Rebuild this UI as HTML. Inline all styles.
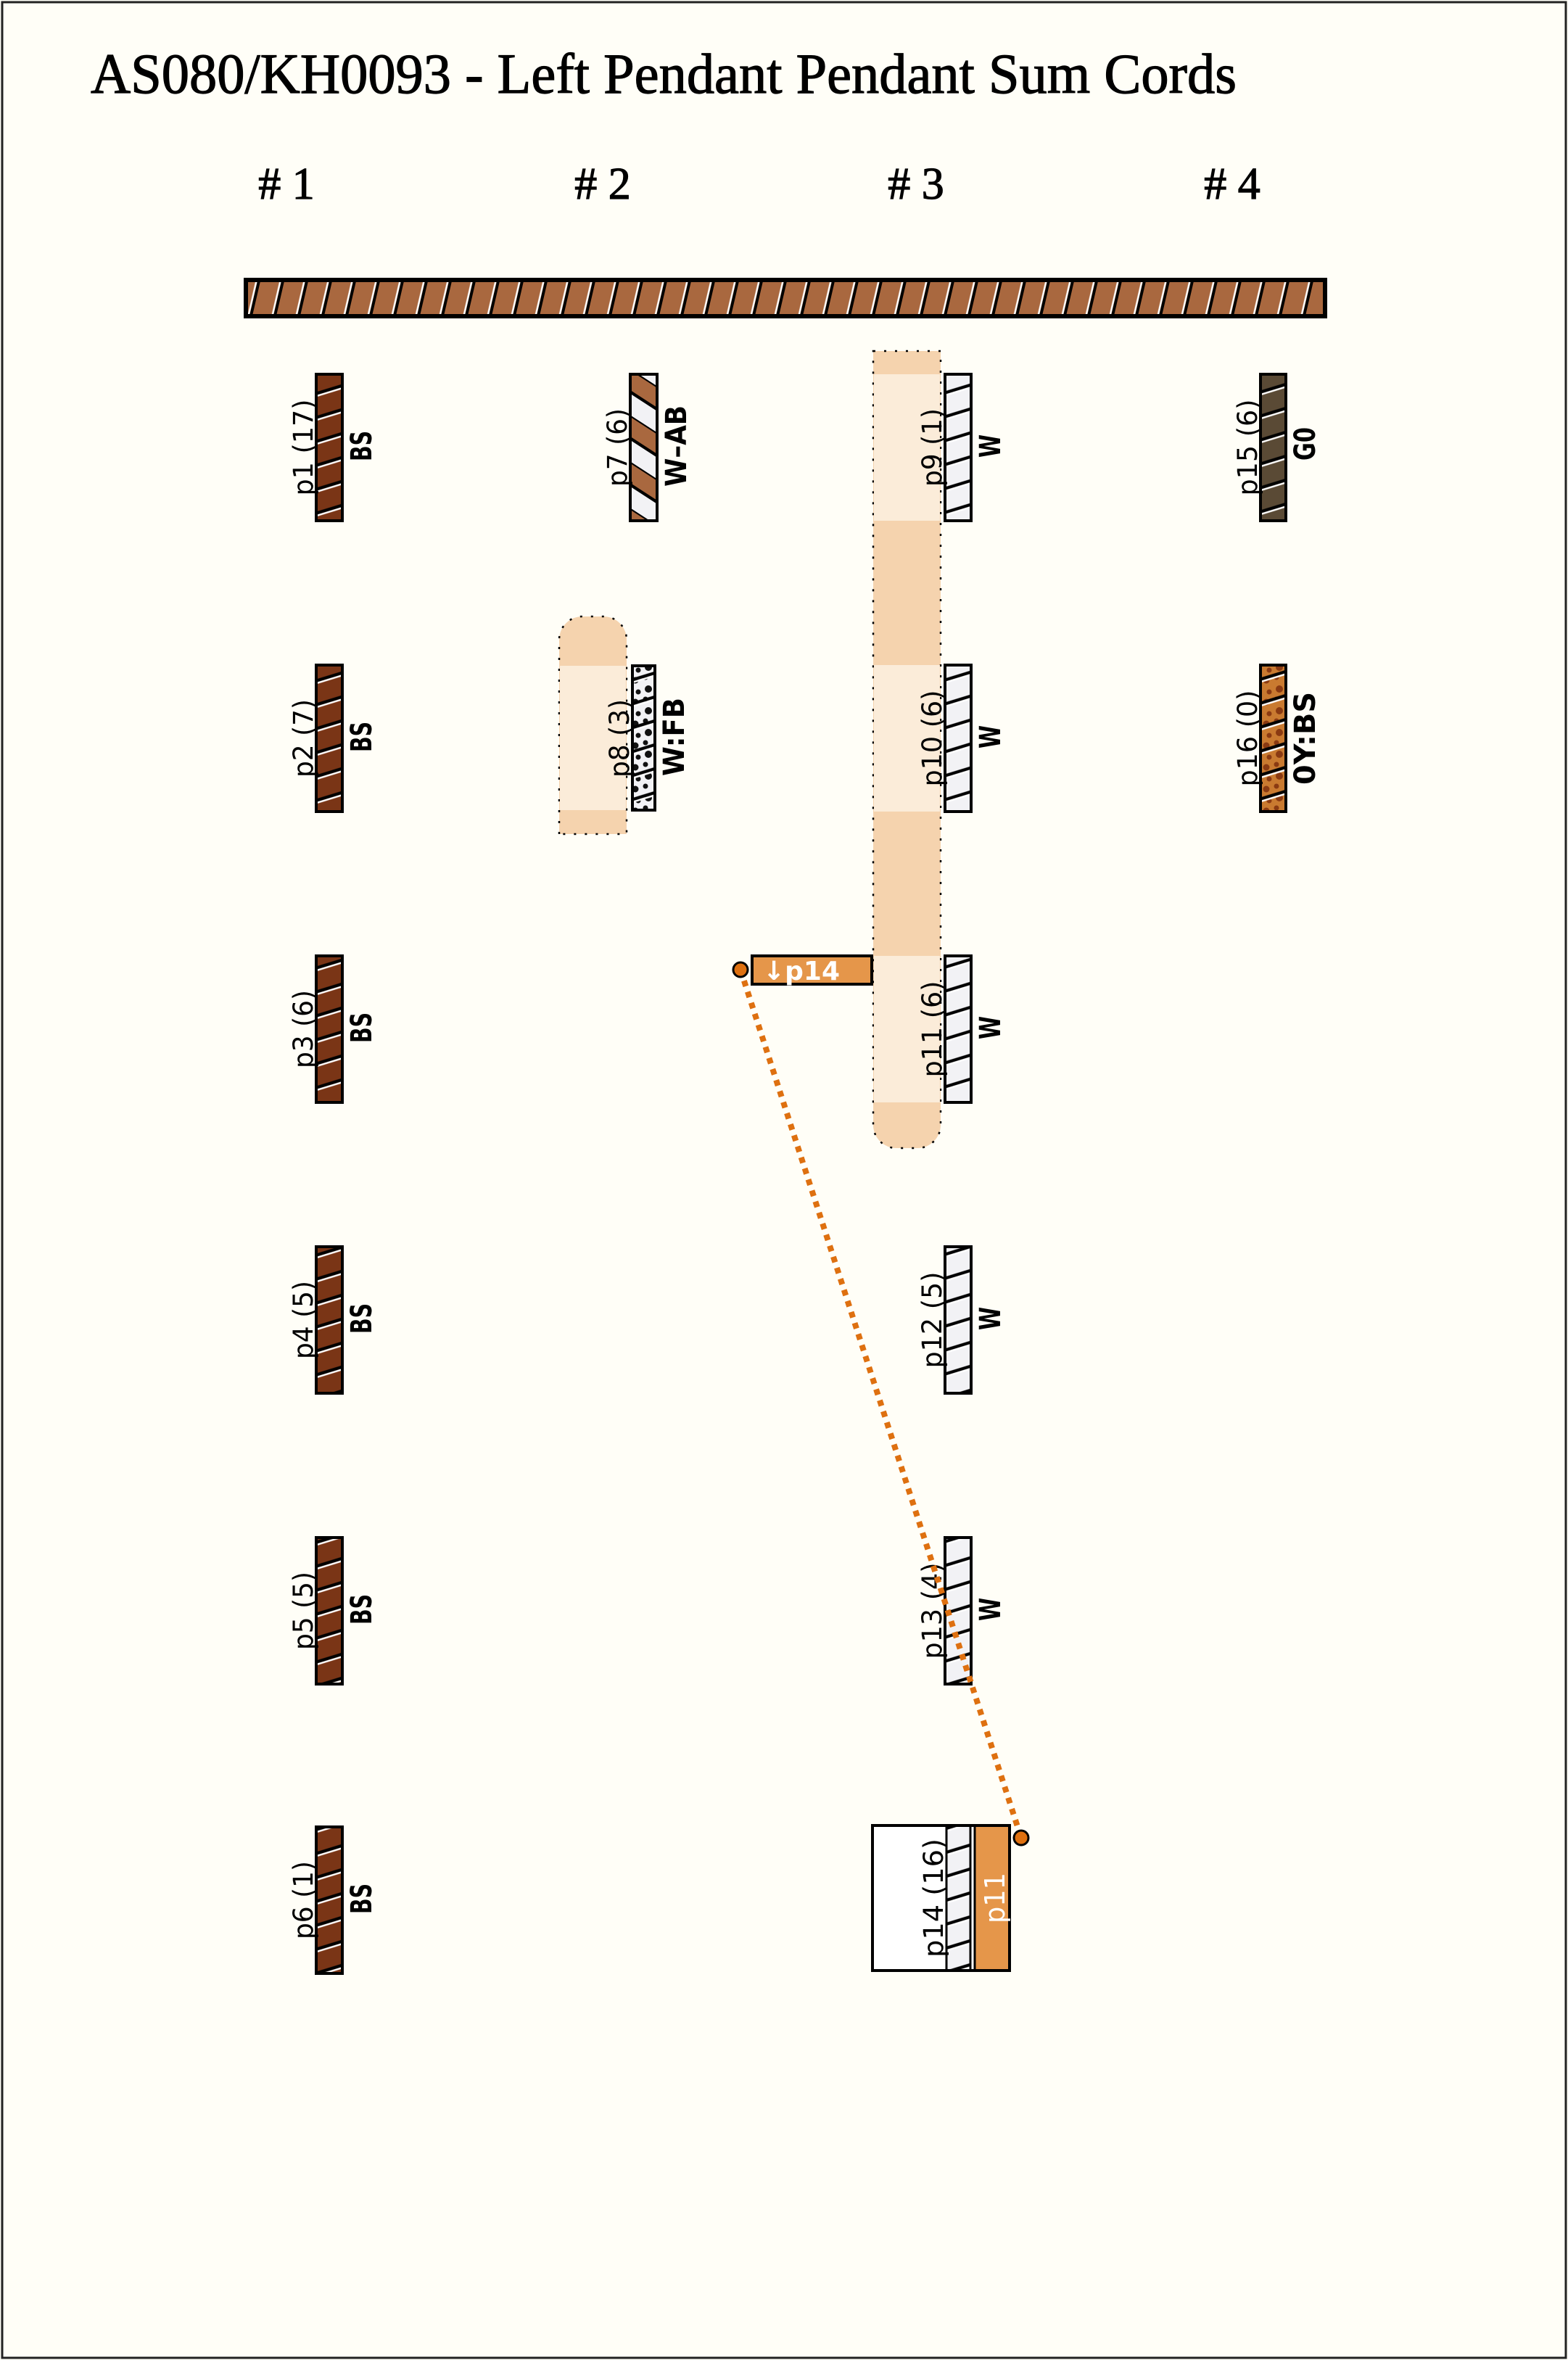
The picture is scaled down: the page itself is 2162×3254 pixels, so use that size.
<!DOCTYPE html>
<html><head><meta charset="utf-8"><style>
html,body{margin:0;padding:0;background:#fffef7;}
svg{display:block;}
.l{font-family:"DejaVu Sans","Liberation Sans",sans-serif;font-size:37px;fill:#000;}
.r{font-family:"DejaVu Sans","Liberation Sans",sans-serif;font-size:40px;font-weight:bold;fill:#000;}
</style></head><body>
<svg width="2162" height="3254" viewBox="0 0 2162 3254" xmlns="http://www.w3.org/2000/svg">
<defs>
<pattern id="sl" width="20" height="33" patternUnits="userSpaceOnUse" patternTransform="skewY(-17)">
<line x1="0" y1="16" x2="20" y2="16" stroke="#000" stroke-width="4.5"/>
<line x1="0" y1="19.5" x2="20" y2="19.5" stroke="#fff" stroke-width="2.5"/>
</pattern>
<pattern id="bar" width="33" height="20" patternUnits="userSpaceOnUse" patternTransform="skewX(-13)">
<line x1="14" y1="0" x2="14" y2="20" stroke="#fff" stroke-width="2.5"/>
<line x1="17.5" y1="0" x2="17.5" y2="20" stroke="#000" stroke-width="4"/>
</pattern>
<pattern id="band" width="20" height="64" patternUnits="userSpaceOnUse" patternTransform="translate(0,520) skewY(33)">
<rect x="0" y="0" width="20" height="32" fill="#a9683f"/>
<rect x="0" y="32" width="20" height="32" fill="#f2f2f5"/>
<line x1="0" y1="0" x2="20" y2="0" stroke="#000" stroke-width="5"/>
<line x1="0" y1="32" x2="20" y2="32" stroke="#000" stroke-width="5"/>
</pattern>
<pattern id="dotsK" width="30" height="30" patternUnits="userSpaceOnUse">
<circle cx="6" cy="8" r="4.5" fill="#111"/><circle cx="20" cy="4" r="3.5" fill="#111"/><circle cx="24" cy="20" r="5" fill="#111"/><circle cx="10" cy="24" r="3.5" fill="#111"/>
</pattern>
<pattern id="dotsB" width="30" height="30" patternUnits="userSpaceOnUse">
<circle cx="6" cy="8" r="4.5" fill="#8a3a12"/><circle cx="20" cy="4" r="3.5" fill="#8a3a12"/><circle cx="24" cy="20" r="5" fill="#8a3a12"/><circle cx="10" cy="24" r="3.5" fill="#8a3a12"/>
</pattern>
</defs>
<rect x="3" y="3" width="2156" height="3248" fill="#fffef7" stroke="#222" stroke-width="3"/>
<text x="125" y="128" font-family="Liberation Serif, serif" font-size="78" stroke="#000" stroke-width="1.2" textLength="1580" lengthAdjust="spacingAndGlyphs">AS080/KH0093 - Left Pendant Pendant Sum Cords</text>
<g font-family="Liberation Serif, serif" font-size="62" text-anchor="middle" stroke="#000" stroke-width="1.2">
<text x="395" y="274"># 1</text><text x="831" y="274"># 2</text><text x="1263" y="274"># 3</text><text x="1699" y="274"># 4</text>
</g>
<!-- main bar -->
<rect x="339" y="386" width="1488" height="50" fill="#a9683f"/>
<rect x="339" y="386" width="1488" height="50" fill="url(#bar)"/>
<rect x="339" y="386" width="1488" height="50" fill="none" stroke="#000" stroke-width="6"/>
<!-- highlights -->
<path d="M1204,484 H1297 V1551 A32,32 0 0 1 1265,1583 H1236 A32,32 0 0 1 1204,1551 Z" fill="#f5d3ae" stroke="#000" stroke-width="2.5" stroke-dasharray="3,12"/>
<rect x="1205" y="516" width="91" height="202" fill="#fbecd9"/>
<rect x="1205" y="917" width="91" height="202" fill="#fbecd9"/>
<rect x="1205" y="1318" width="91" height="202" fill="#fbecd9"/>
<path d="M771,1150 V882 A32,32 0 0 1 803,850 H832 A32,32 0 0 1 864,882 V1150 Z" fill="#f5d3ae" stroke="#000" stroke-width="2.5" stroke-dasharray="3,12"/>
<rect x="772" y="918" width="91" height="199" fill="#fbecd9"/>
<!-- pendants -->
<g stroke="#000" stroke-width="4">
<rect x="436" y="516" width="36" height="202" fill="#7a3516"/><rect x="436" y="516" width="36" height="202" fill="url(#sl)"/>
<rect x="436" y="917" width="36" height="202" fill="#7a3516"/><rect x="436" y="917" width="36" height="202" fill="url(#sl)"/>
<rect x="436" y="1318" width="36" height="202" fill="#7a3516"/><rect x="436" y="1318" width="36" height="202" fill="url(#sl)"/>
<rect x="436" y="1719" width="36" height="202" fill="#7a3516"/><rect x="436" y="1719" width="36" height="202" fill="url(#sl)"/>
<rect x="436" y="2120" width="36" height="202" fill="#7a3516"/><rect x="436" y="2120" width="36" height="202" fill="url(#sl)"/>
<rect x="436" y="2519" width="36" height="202" fill="#7a3516"/><rect x="436" y="2519" width="36" height="202" fill="url(#sl)"/>
<rect x="869" y="516" width="37" height="202" fill="url(#band)"/>
<rect x="872" y="918" width="31" height="199" fill="#f2f2f5"/><rect x="872" y="918" width="31" height="199" fill="url(#dotsK)"/><rect x="872" y="918" width="31" height="199" fill="url(#sl)"/>
<rect x="1303" y="516" width="36" height="202" fill="#f2f2f5"/><rect x="1303" y="516" width="36" height="202" fill="url(#sl)"/>
<rect x="1303" y="917" width="36" height="202" fill="#f2f2f5"/><rect x="1303" y="917" width="36" height="202" fill="url(#sl)"/>
<rect x="1303" y="1318" width="36" height="202" fill="#f2f2f5"/><rect x="1303" y="1318" width="36" height="202" fill="url(#sl)"/>
<rect x="1303" y="1719" width="36" height="202" fill="#f2f2f5"/><rect x="1303" y="1719" width="36" height="202" fill="url(#sl)"/>
<rect x="1303" y="2120" width="36" height="202" fill="#f2f2f5"/><rect x="1303" y="2120" width="36" height="202" fill="url(#sl)"/>
<rect x="1738" y="516" width="35" height="202" fill="#5a4a35"/><rect x="1738" y="516" width="35" height="202" fill="url(#sl)"/>
<rect x="1738" y="917" width="35" height="202" fill="#c97a30"/><rect x="1738" y="917" width="35" height="202" fill="url(#dotsB)"/><rect x="1738" y="917" width="35" height="202" fill="url(#sl)"/>
</g>
<!-- p14 box -->
<rect x="1203" y="2517" width="189" height="200" fill="#fff" stroke="#000" stroke-width="4"/>
<rect x="1305" y="2519" width="32" height="196" fill="#f2f2f5"/><rect x="1305" y="2519" width="32" height="196" fill="url(#sl)"/>
<line x1="1305" y1="2517" x2="1305" y2="2717" stroke="#000" stroke-width="3"/>
<line x1="1338" y1="2517" x2="1338" y2="2717" stroke="#000" stroke-width="3"/>
<rect x="1345" y="2519" width="45" height="196" fill="#e5964a"/>
<line x1="1344" y1="2517" x2="1344" y2="2717" stroke="#000" stroke-width="3"/>
<text font-family="DejaVu Sans, sans-serif" font-size="38" fill="#fff" transform="translate(1385,2617) rotate(-90)" text-anchor="middle" textLength="70" lengthAdjust="spacingAndGlyphs">p11</text>
<!-- left labels -->
<g class="l" text-anchor="middle">
<text transform="translate(431,617) rotate(-90)" textLength="133" lengthAdjust="spacingAndGlyphs">p1 (17)</text>
<text transform="translate(431,1018) rotate(-90)" textLength="108" lengthAdjust="spacingAndGlyphs">p2 (7)</text>
<text transform="translate(431,1419) rotate(-90)" textLength="108" lengthAdjust="spacingAndGlyphs">p3 (6)</text>
<text transform="translate(431,1820) rotate(-90)" textLength="108" lengthAdjust="spacingAndGlyphs">p4 (5)</text>
<text transform="translate(431,2221) rotate(-90)" textLength="108" lengthAdjust="spacingAndGlyphs">p5 (5)</text>
<text transform="translate(431,2620) rotate(-90)" textLength="108" lengthAdjust="spacingAndGlyphs">p6 (1)</text>
<text transform="translate(864,617) rotate(-90)" textLength="108" lengthAdjust="spacingAndGlyphs">p7 (6)</text>
<text transform="translate(867,1018) rotate(-90)" textLength="108" lengthAdjust="spacingAndGlyphs">p8 (3)</text>
<text transform="translate(1298,617) rotate(-90)" textLength="108" lengthAdjust="spacingAndGlyphs">p9 (1)</text>
<text transform="translate(1298,1018) rotate(-90)" textLength="133" lengthAdjust="spacingAndGlyphs">p10 (6)</text>
<text transform="translate(1298,1419) rotate(-90)" textLength="133" lengthAdjust="spacingAndGlyphs">p11 (6)</text>
<text transform="translate(1298,1820) rotate(-90)" textLength="133" lengthAdjust="spacingAndGlyphs">p12 (5)</text>
<text transform="translate(1298,2221) rotate(-90)" textLength="133" lengthAdjust="spacingAndGlyphs">p13 (4)</text>
<text transform="translate(1300,2617) rotate(-90)" textLength="164" lengthAdjust="spacingAndGlyphs">p14 (16)</text>
<text transform="translate(1733,617) rotate(-90)" textLength="133" lengthAdjust="spacingAndGlyphs">p15 (6)</text>
<text transform="translate(1733,1018) rotate(-90)" textLength="133" lengthAdjust="spacingAndGlyphs">p16 (0)</text>
</g>
<!-- right labels -->
<g class="r" text-anchor="middle">
<text transform="translate(512,615) rotate(-90)" textLength="42" lengthAdjust="spacingAndGlyphs">BS</text>
<text transform="translate(512,1016) rotate(-90)" textLength="42" lengthAdjust="spacingAndGlyphs">BS</text>
<text transform="translate(512,1417) rotate(-90)" textLength="42" lengthAdjust="spacingAndGlyphs">BS</text>
<text transform="translate(512,1818) rotate(-90)" textLength="42" lengthAdjust="spacingAndGlyphs">BS</text>
<text transform="translate(512,2219) rotate(-90)" textLength="42" lengthAdjust="spacingAndGlyphs">BS</text>
<text transform="translate(512,2618) rotate(-90)" textLength="42" lengthAdjust="spacingAndGlyphs">BS</text>
<text transform="translate(946,615) rotate(-90)" textLength="112" lengthAdjust="spacingAndGlyphs">W–AB</text>
<text transform="translate(943,1016) rotate(-90)" textLength="108" lengthAdjust="spacingAndGlyphs">W:FB</text>
<text transform="translate(1379,615) rotate(-90)" textLength="32" lengthAdjust="spacingAndGlyphs">W</text>
<text transform="translate(1379,1016) rotate(-90)" textLength="32" lengthAdjust="spacingAndGlyphs">W</text>
<text transform="translate(1379,1417) rotate(-90)" textLength="32" lengthAdjust="spacingAndGlyphs">W</text>
<text transform="translate(1379,1818) rotate(-90)" textLength="32" lengthAdjust="spacingAndGlyphs">W</text>
<text transform="translate(1379,2219) rotate(-90)" textLength="32" lengthAdjust="spacingAndGlyphs">W</text>
<text transform="translate(1813,612) rotate(-90)" textLength="46" lengthAdjust="spacingAndGlyphs">G0</text>
<text transform="translate(1813,1018) rotate(-90)" textLength="128" lengthAdjust="spacingAndGlyphs">0Y:BS</text>
</g>
<!-- link -->
<rect x="1037" y="1318" width="165" height="39" fill="#e5964a" stroke="#000" stroke-width="4"/>
<text x="1052" y="1351" font-family="DejaVu Sans, sans-serif" font-size="36" font-weight="bold" fill="#fff">↓p14</text>
<line x1="1021" y1="1337" x2="1408" y2="2534" stroke="#de7010" stroke-width="8" stroke-dasharray="8,8"/>
<circle cx="1021" cy="1337" r="10" fill="#de7010" stroke="#000" stroke-width="3"/>
<circle cx="1408" cy="2534" r="10" fill="#de7010" stroke="#000" stroke-width="3"/>
</svg>
</body></html>
